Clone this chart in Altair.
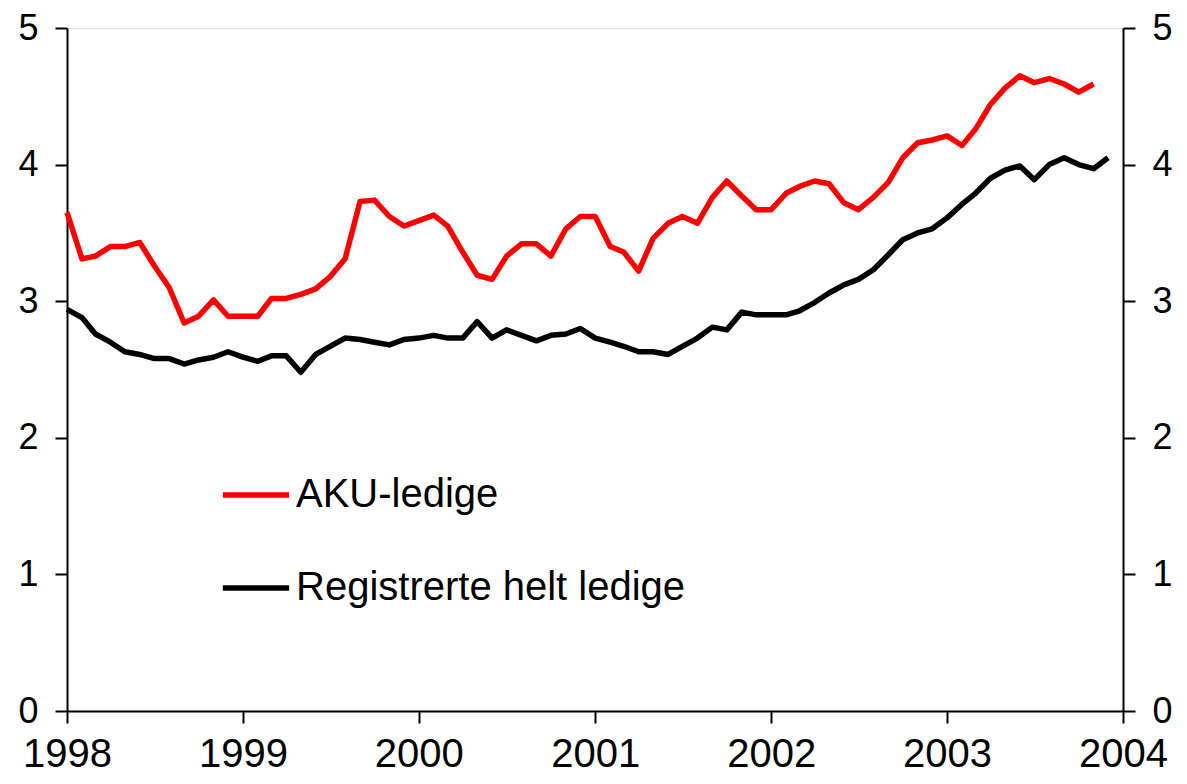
import altair as alt
import pandas as pd

series_names = ["AKU-ledige", "Registrerte helt ledige"]
series_colors = ["#ff0000", "#000000"]

# Monthly values, starting January 1998
aku = [3.65, 3.31, 3.33, 3.40, 3.40, 3.43, 3.26, 3.10, 2.84, 2.89, 3.01, 2.89,
       2.89, 2.89, 3.02, 3.02, 3.05, 3.09, 3.18, 3.31, 3.73, 3.74, 3.62, 3.55,
       3.59, 3.63, 3.55, 3.36, 3.19, 3.16, 3.33, 3.42, 3.42, 3.33, 3.53, 3.62,
       3.62, 3.40, 3.36, 3.22, 3.46, 3.57, 3.62, 3.57, 3.76, 3.88, 3.77, 3.67,
       3.67, 3.79, 3.84, 3.88, 3.86, 3.72, 3.67, 3.76, 3.87, 4.05, 4.16, 4.18,
       4.21, 4.14, 4.26, 4.44, 4.56, 4.65, 4.60, 4.63, 4.59, 4.53, 4.59]
reg = [2.94, 2.88, 2.76, 2.70, 2.63, 2.61, 2.58, 2.58, 2.54, 2.57, 2.59, 2.63,
       2.59, 2.56, 2.60, 2.60, 2.48, 2.61, 2.67, 2.73, 2.72, 2.70, 2.68, 2.72,
       2.73, 2.75, 2.73, 2.73, 2.85, 2.73, 2.79, 2.75, 2.71, 2.75, 2.76, 2.80,
       2.73, 2.70, 2.67, 2.63, 2.63, 2.61, 2.67, 2.73, 2.81, 2.79, 2.92, 2.90,
       2.90, 2.90, 2.93, 2.99, 3.06, 3.12, 3.16, 3.23, 3.34, 3.45, 3.50, 3.53,
       3.61, 3.71, 3.79, 3.90, 3.96, 3.99, 3.89, 4.00, 4.05, 4.00, 3.97, 4.05]

year_ticks = [1998, 1999, 2000, 2001, 2002, 2003, 2004]
y_ticks = [0, 1, 2, 3, 4, 5]

df = pd.concat([
    pd.DataFrame({"date": pd.date_range("1998-01-01", periods=len(aku), freq="MS"),
                  "value": aku, "series": series_names[0]}),
    pd.DataFrame({"date": pd.date_range("1998-01-01", periods=len(reg), freq="MS"),
                  "value": reg, "series": series_names[1]}),
])

FONT = "Liberation Sans"
FS = 40
FS_Y = 36

x_enc = alt.X(
    "date:T",
    title=None,
    scale=alt.Scale(domain=[alt.DateTime(year=year_ticks[0], month=1, date=1),
                            alt.DateTime(year=year_ticks[-1], month=1, date=1)]),
    axis=alt.Axis(values=[alt.DateTime(year=y, month=1, date=1) for y in year_ticks],
                  format="%Y", grid=False, tickSize=12, tickWidth=2, domainWidth=2,
                  domainColor="black", tickColor="black", labelFontSize=FS,
                  labelFont=FONT, labelColor="black", labelPadding=11,
                  labelFlush=False, labelOverlap=False),
)

y_scale = alt.Scale(domain=[0, 5], nice=False, zero=True)

def y_axis(orient):
    return alt.Axis(values=y_ticks, orient=orient, grid=False, tickSize=12, tickWidth=2,
                    domainWidth=2, domainColor="black", tickColor="black",
                    labelFontSize=FS_Y, labelFont=FONT, labelColor="black",
                    labelPadding=17, format="d", title=None)

lines = alt.Chart(df).mark_line(strokeWidth=5.5, strokeJoin="round").encode(
    x=x_enc,
    y=alt.Y("value:Q", scale=y_scale, axis=y_axis("left"), title=None),
    color=alt.Color("series:N",
                    scale=alt.Scale(domain=series_names, range=series_colors),
                    legend=alt.Legend(orient="none", legendX=153, legendY=431,
                                      title=None, symbolType="stroke",
                                      symbolSize=4400, symbolStrokeWidth=5.5,
                                      labelFontSize=FS, labelFont=FONT,
                                      labelColor="black", labelOffset=4,
                                      rowPadding=37, padding=0, labelLimit=600)),
    detail="series:N",
)

right = alt.Chart(df).mark_line(strokeOpacity=0).encode(
    x=x_enc,
    y=alt.Y("value:Q", scale=y_scale, axis=y_axis("right"), title=None),
    detail="series:N",
)

chart = alt.layer(lines, right).resolve_scale(y="independent").properties(
    width=1056, height=683,
    autosize=alt.AutoSizeParams(type="none"),
    padding={"left": 59, "top": 20, "right": 56, "bottom": 65},
).configure_view(stroke=None).configure(background="white")

chart.save("out.html", embed_options={"renderer": "svg", "actions": False})
